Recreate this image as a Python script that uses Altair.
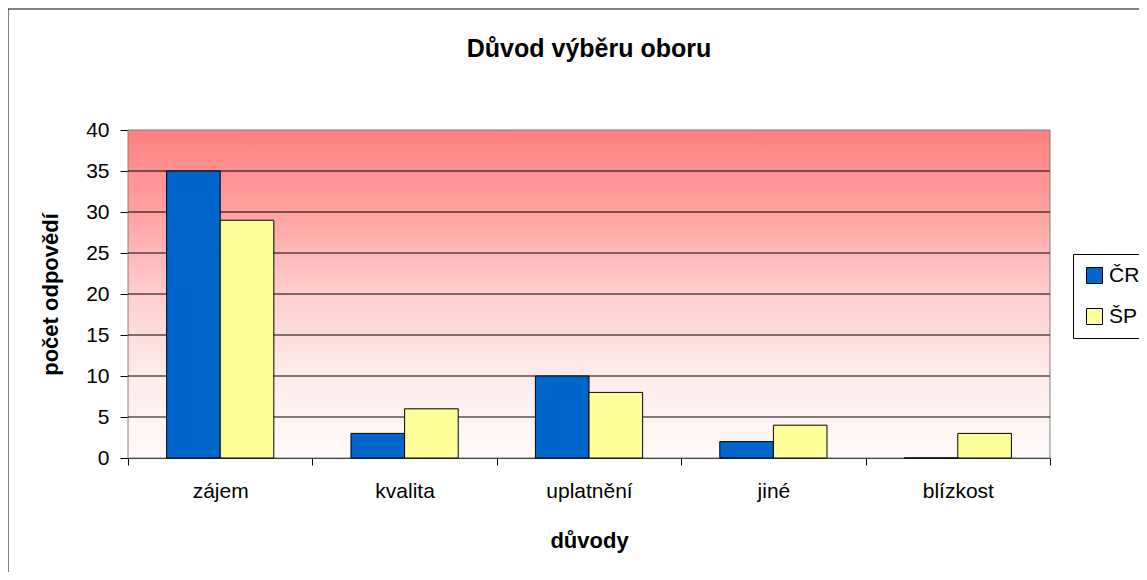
import altair as alt
import pandas as pd

categories = ["zájem", "kvalita", "uplatnění", "jiné", "blízkost"]
series_names = ["ČR", "ŠP"]
cr_values = [35, 3, 10, 2, 0]
sp_values = [29, 6, 8, 4, 3]
y_ticks = [0, 5, 10, 15, 20, 25, 30, 35, 40]
grid_values = [5, 10, 15, 20, 25, 30, 35]
colors = ["#0066CC", "#FFFF99"]

rows = []
for c, a, b in zip(categories, cr_values, sp_values):
    rows.append({"kat": c, "serie": "ČR", "hodnota": a})
    rows.append({"kat": c, "serie": "ŠP", "hodnota": b})
df = pd.DataFrame(rows)

FONT = "Liberation Sans"
YTITLE = "počet odpovědí"
yscale = alt.Scale(domain=[0, 40], nice=False, zero=True)

gradient = {
    "gradient": "linear",
    "x1": 0, "x2": 0, "y1": 0, "y2": 1,
    "stops": [
        {"offset": 0.0, "color": "#FF8080"},
        {"offset": 0.25, "color": "#FFA2A2"},
        {"offset": 0.5, "color": "#FFCDCD"},
        {"offset": 0.75, "color": "#FFEBEB"},
        {"offset": 1.0, "color": "#FFFAFA"},
    ],
}

bg = alt.Chart(pd.DataFrame({"lo": [0], "hi": [40]})).mark_rect(
    color=gradient, stroke="#808080", strokeWidth=1
).encode(
    y=alt.Y("lo:Q", scale=yscale, title=YTITLE),
    y2="hi:Q",
)

grid = alt.Chart(pd.DataFrame({"v": grid_values})).mark_rule(
    color="black", strokeWidth=1
).encode(
    y=alt.Y("v:Q", scale=yscale, title=YTITLE),
)

bars = alt.Chart(df).mark_bar(stroke="black", strokeWidth=1).encode(
    x=alt.X(
        "kat:N",
        sort=categories,
        scale=alt.Scale(paddingInner=0, paddingOuter=0),
        axis=alt.Axis(
            title="důvody",
            labelAngle=0,
            tickBand="extent",
            tickSize=7,
            labelPadding=15,
            labelFont=FONT,
            labelFontSize=21,
            labelColor="black",
            titleFont=FONT,
            titleFontSize=22,
            titleFontWeight="bold",
            titleColor="black",
            titleBaseline="alphabetic",
            titleY=89,
            domainColor="black",
            tickColor="black",
            grid=False,
        ),
    ),
    xOffset=alt.XOffset(
        "serie:N",
        sort=series_names,
        scale=alt.Scale(paddingInner=0, paddingOuter=0.72),
    ),
    y=alt.Y(
        "hodnota:Q",
        scale=yscale,
        title=YTITLE,
        axis=alt.Axis(
            values=y_ticks,
            grid=False,
            tickSize=8,
            labelPadding=11,
            labelFont=FONT,
            labelFontSize=21,
            labelColor="black",
            titleFont=FONT,
            titleFontSize=22,
            titleFontWeight="bold",
            titleColor="black",
            titleAngle=270,
            titleBaseline="alphabetic",
            titleX=-71,
            domainColor="black",
            tickColor="black",
        ),
    ),
    color=alt.Color(
        "serie:N",
        sort=series_names,
        scale=alt.Scale(domain=series_names, range=colors),
        legend=alt.Legend(
            title=None,
            orient="none",
            legendX=945,
            legendY=124,
            padding=11,
            strokeColor="black",
            fillColor="white",
            symbolType="square",
            symbolSize=256,
            symbolStrokeColor="black",
            symbolStrokeWidth=1,
            labelFont=FONT,
            labelFontSize=21,
            labelColor="black",
            labelOffset=4,
            rowPadding=19,
        ),
    ),
)

frame = alt.Chart(pd.DataFrame({"f": [1]})).mark_rect(
    fillOpacity=0, stroke="black", strokeWidth=1
).encode(
    x=alt.value(-120), x2=alt.value(1100),
    y=alt.value(-121), y2=alt.value(500),
)

chart = alt.layer(bg, grid, bars, frame).properties(
    width=922,
    height=328,
    title=alt.TitleParams(
        "Důvod výběru oboru",
        font=FONT,
        fontSize=25,
        fontWeight="bold",
        color="black",
        anchor="middle",
        baseline="alphabetic",
        offset=-73,
    ),
    autosize=alt.AutoSizeParams(type="none"),
    padding={"left": 120, "top": 122, "right": 89, "bottom": 114},
    background="white",
).configure_view(stroke=None).configure_axis(zindex=1)

chart.save("out.html", embed_options={"renderer": "svg", "actions": False})
